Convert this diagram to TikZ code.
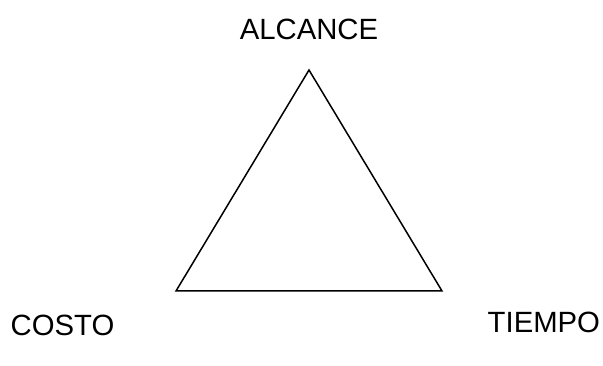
\documentclass[tikz,border=0pt]{standalone}
\usepackage{fontspec}
\setmainfont{Liberation Sans}
\usetikzlibrary{positioning}

\begin{document}
\begin{tikzpicture}[x=1pt, y=1pt, font=\fontsize{29.3}{35}\selectfont,
    lbl/.style={inner sep=0pt}]
  \useasboundingbox (0,0) rectangle (603,366);
  % corners of the triangle
  \coordinate (top) at (309,296);
  \coordinate (left) at (176,75);
  \coordinate (right) at (442,75);
  \draw[line width=1.5pt, line join=miter] (top) -- (left) -- (right) -- cycle;
  % labels
  \node[lbl, anchor=base] (alcance) at (309,326) {ALCANCE};
  \node[lbl, anchor=base west] (costo) at (10.5,30) {COSTO};
  \node[lbl, anchor=base west] (tiempo) at (487.5,33) {TIEMPO};
\end{tikzpicture}
\end{document}
